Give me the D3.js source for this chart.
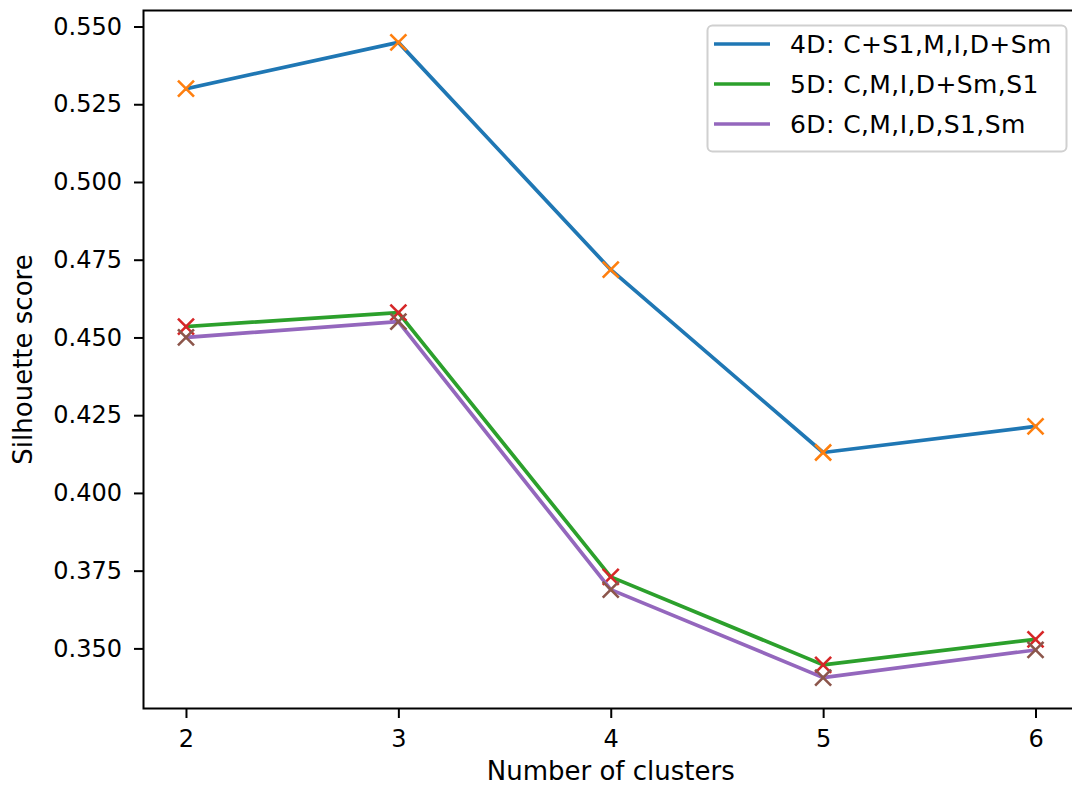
<!DOCTYPE html>
<html><head><meta charset="utf-8">
<script src="https://cdn.jsdelivr.net/npm/d3@7"></script>
<style>body{margin:0;background:#fff}svg{display:block}text{font-family:"DejaVu Sans",sans-serif;fill:#000}</style>
</head><body>
<script>
const clusters = [2, 3, 4, 5, 6];
const series4D = [0.5300, 0.5449, 0.4718, 0.4130, 0.4214];
const series5D = [0.4535, 0.4580, 0.3730, 0.3447, 0.3529];
const series6D = [0.4500, 0.4551, 0.3689, 0.3406, 0.3495];
const seriesNames = ["4D: C+S1,M,I,D+Sm", "5D: C,M,I,D+Sm,S1", "6D: C,M,I,D,S1,Sm"];
const yTicks = [0.350, 0.375, 0.400, 0.425, 0.450, 0.475, 0.500, 0.525, 0.550];

const W = 1072, H = 787;
const L = 143.5, R = 1078, T = 10.5, B = 708.5;
const svg = d3.select("body").append("svg").attr("width", W).attr("height", H);

const x = d3.scaleLinear().domain([1.8, 6.2]).range([L, R]);
const y = d3.scaleLinear().domain([0.33067, 0.55515]).range([B, T]);

const lineColors = ["#1f77b4", "#2ca02c", "#9467bd"];
const markerColors = ["#ff7f0e", "#d62728", "#8c564b"];
const data = [series4D, series5D, series6D];

const line = d3.line().x((d, i) => x(clusters[i])).y(d => y(d));
const g = svg.append("g");
data.forEach((s, k) => {
  g.append("path").attr("d", line(s)).attr("fill", "none")
    .attr("stroke", lineColors[k]).attr("stroke-width", 3.7).attr("stroke-linejoin", "round").attr("stroke-linecap", "square");
  const ms = 8;
  g.selectAll(null).data(s).enter().append("path")
    .attr("transform", (d, i) => `translate(${x(clusters[i])},${y(d)})`)
    .attr("d", `M${-ms},${-ms}L${ms},${ms}M${-ms},${ms}L${ms},${-ms}`)
    .attr("stroke", markerColors[k]).attr("stroke-width", 2.6).attr("fill", "none");
});

// axes
const xAxis = d3.axisBottom(x).tickValues(clusters).tickFormat(d3.format("d")).tickSize(9.5).tickPadding(12);
const yAxis = d3.axisLeft(y).tickValues(yTicks).tickFormat(d3.format(".3f")).tickSize(9.5).tickPadding(12);
const ga = svg.append("g").attr("transform", `translate(0,${B})`).call(xAxis);
const gy = svg.append("g").attr("transform", `translate(${L},0)`).call(yAxis);
[ga, gy].forEach(a => {
  a.select(".domain").remove();
  a.selectAll(".tick line").attr("stroke", "#000").attr("stroke-width", 2);
  a.selectAll(".tick text").attr("font-size", 24).attr("font-family", "DejaVu Sans").attr("fill", "#000");
});
svg.append("rect").attr("x", L).attr("y", T).attr("width", R - L).attr("height", B - T)
  .attr("fill", "none").attr("stroke", "#000").attr("stroke-width", 2);

svg.append("text").attr("x", (L + R) / 2).attr("y", 780).attr("text-anchor", "middle")
  .attr("font-size", 26).text("Number of clusters");
svg.append("text").attr("transform", `translate(32,${(T + B) / 2}) rotate(-90)`).attr("text-anchor", "middle")
  .attr("font-size", 26).text("Silhouette score");

// legend
const lg = svg.append("g");
lg.append("rect").attr("x", 707.5).attr("y", 25.5).attr("width", 359).attr("height", 126).attr("rx", 5)
  .attr("fill", "#fff").attr("fill-opacity", 0.8).attr("stroke", "#d0d0d0").attr("stroke-width", 2);
seriesNames.forEach((n, k) => {
  const yy = 44 + k * 40;
  lg.append("line").attr("x1", 714).attr("x2", 770).attr("y1", yy).attr("y2", yy)
    .attr("stroke", lineColors[k]).attr("stroke-width", 3.7);
  lg.append("text").attr("x", 790).attr("y", yy + 9).attr("font-size", 25).attr("letter-spacing", 0.4).text(n);
});
</script>
</body></html>
